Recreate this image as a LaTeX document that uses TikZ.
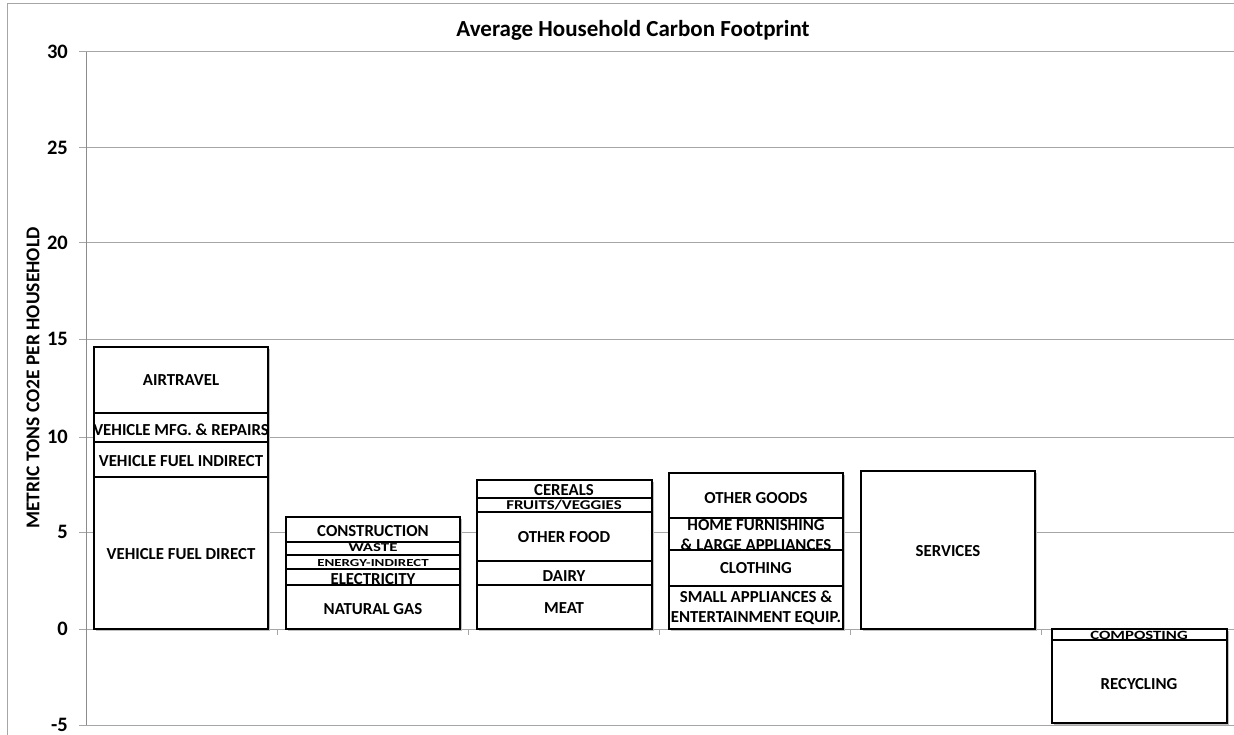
\documentclass[tikz,border=0pt]{standalone}
\usepackage{fontspec}
\setmainfont{Carlito}
\begin{document}
\begin{tikzpicture}[x=1pt,y=-1pt,
  gridline/.style={draw=gray!70, line width=1pt},
  axisline/.style={draw=gray!90, line width=1pt},
  barseg/.style={draw=black, line width=1.3pt, fill=white},
  barshadow/.style={fill=black!25, draw=none},
  lab/.style={font=\bfseries\fontsize{16.8}{19}\selectfont, align=center, inner sep=0pt},
  ticklab/.style={font=\bfseries\fontsize{20.5}{22}\selectfont, anchor=east, inner sep=0pt}]
\useasboundingbox (0,0) rectangle (1234,735);
% outer chart frame
\draw[gridline] (1240,4) -- (7,4) -- (7,740);
% title
\node[font=\bfseries\fontsize{23}{26}\selectfont, inner sep=0pt] (title) at (633,30) {Average Household Carbon Footprint};
% y axis title
\node[font=\bfseries\fontsize{19.5}{22}\selectfont, rotate=90, inner sep=0pt] (ytitle) at (33,378) {METRIC TONS CO2E PER HOUSEHOLD};
% gridlines and tick labels
\foreach \v/\y in {30/52, 25/148, 20/243, 15/339, 10/437, 5/532, 0/629, -5/725} {
  \draw[gridline] (79,\y) -- (1234,\y);
  \node[ticklab] (t\v) at (68,\y) {\v};
}
\draw[axisline] (86,52) -- (86,725);
\foreach \x in {277,468,659,850,1041} { \draw[gridline] (\x,629) -- (\x,635); }
% shadows
\foreach \a/\b/\c/\d in {94/268/347/629, 286/460/517/629, 477/652/480/629, 669/843/473/629, 861/1035/471/629, 1052/1227/629/723} {
  \fill[barshadow] (\a+2,\c+2) rectangle (\b+2,\d+2);
}
% bar 1 : transport
\foreach \c/\d in {347/413, 413/442, 442/477, 477/629} { \draw[barseg] (94,\c) rectangle (268,\d); }
% bar 2 : housing
\foreach \c/\d in {517/542, 542/555, 555/569, 569/585, 585/629} { \draw[barseg] (286,\c) rectangle (460,\d); }
% bar 3 : food
\foreach \c/\d in {480/498, 498/512, 512/561, 561/585, 585/629} { \draw[barseg] (477,\c) rectangle (652,\d); }
% bar 4 : goods
\foreach \c/\d in {473/518, 518/550, 550/586, 586/629} { \draw[barseg] (669,\c) rectangle (843,\d); }
% bar 5 : services
\draw[barseg] (861,471) rectangle (1035,629);
% bar 6 : waste reduction
\foreach \c/\d in {629/640, 640/723} { \draw[barseg] (1052,\c) rectangle (1227,\d); }
% labels bar 1
\node[lab] (air) at (181,380) {AIRTRAVEL};
\node[lab] (mfg) at (181,430) {VEHICLE MFG. \& REPAIRS};
\node[lab] (fuelind) at (181,461) {VEHICLE FUEL INDIRECT};
\node[lab] (fueldir) at (181,554) {VEHICLE FUEL DIRECT};
% labels bar 2
\node[lab] (constr) at (373,531) {CONSTRUCTION};
\node[lab] (waste) at (373,548) {\scalebox{1}[0.72]{WASTE}};
\node[lab, font=\bfseries\fontsize{14.9}{17}\selectfont] (enind) at (373,563) {\scalebox{1}[0.72]{ENERGY-INDIRECT}};
\node[lab] (elec) at (373,579) {ELECTRICITY};
\node[lab] (gas) at (373,609) {NATURAL GAS};
% labels bar 3
\node[lab] (cereal) at (564,490) {CEREALS};
\node[lab] (fruit) at (564,505) {\scalebox{1}[0.8]{FRUITS/VEGGIES}};
\node[lab] (ofood) at (564,537) {OTHER FOOD};
\node[lab] (dairy) at (564,576) {DAIRY};
\node[lab] (meat) at (564,608) {MEAT};
% labels bar 4
\node[lab] (ogoods) at (756,498) {OTHER GOODS};
\node[lab] (home) at (756,535.5) {HOME FURNISHING\\[1pt]\& LARGE APPLIANCES};
\node[lab] (cloth) at (756,568) {CLOTHING};
\node[lab] (small) at (756,607.5) {SMALL APPLIANCES \&\\[1pt]ENTERTAINMENT EQUIP.};
% labels bar 5
\node[lab] (serv) at (948,551) {SERVICES};
% labels bar 6
\node[lab] (compost) at (1139,635) {\scalebox{1}[0.75]{COMPOSTING}};
\node[lab] (recyc) at (1139,684) {RECYCLING};
\end{tikzpicture}
\end{document}
